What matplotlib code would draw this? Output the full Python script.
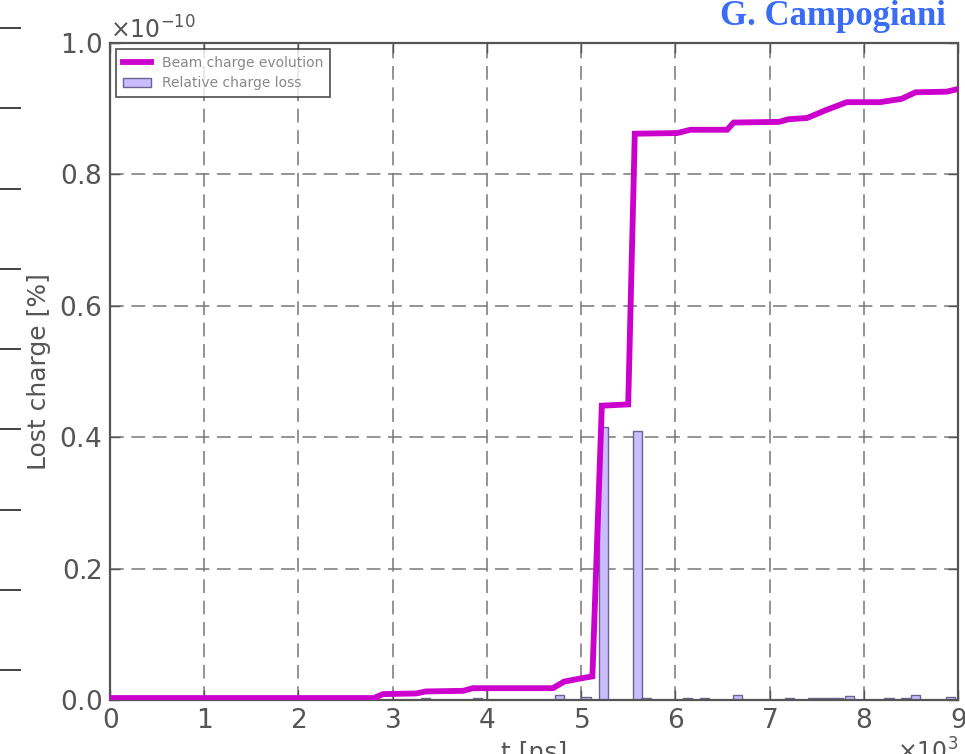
import numpy as np
import matplotlib
matplotlib.use("Agg")
import matplotlib.pyplot as plt
from matplotlib.ticker import ScalarFormatter

# beam charge evolution, t in units of 1e3 ns, lost charge in units of 1e-10 %
t_line = [0.0, 2.8, 2.9, 3.25, 3.35, 3.75, 3.85, 4.7, 4.82, 5.0, 5.12, 5.22,
          5.5, 5.57, 6.02, 6.16, 6.55, 6.62, 7.1, 7.2, 7.4, 7.6, 7.82, 8.17,
          8.4, 8.55, 8.88, 9.0]
q_line = [0.003, 0.003, 0.009, 0.01, 0.013, 0.014, 0.018, 0.018, 0.028, 0.033,
          0.036, 0.448, 0.45, 0.862, 0.863, 0.868, 0.868, 0.879, 0.88, 0.884,
          0.886, 0.898, 0.91, 0.91, 0.915, 0.925, 0.926, 0.93]

# relative charge loss per bin
t_bins = [3.35, 3.9, 4.77, 5.05, 5.24, 5.6, 5.69, 6.13, 6.31, 6.66, 7.21, 7.46,
          7.55, 7.64, 7.73, 7.85, 8.27, 8.45, 8.55, 8.92]
q_bins = [0.003, 0.003, 0.008, 0.004, 0.416, 0.409, 0.003, 0.003, 0.003, 0.008,
          0.003, 0.003, 0.003, 0.003, 0.003, 0.006, 0.003, 0.003, 0.007, 0.004]

T_SCALE = 1e3
Q_SCALE = 1e-10

fig = plt.figure(figsize=(9.65, 7.54), dpi=100)
ax = fig.add_axes([0.114, 0.0716, 0.8787, 0.8713])

t_l = np.array(t_line) * T_SCALE
q_l = np.array(q_line) * Q_SCALE
t_b = np.array(t_bins) * T_SCALE
q_b = np.array(q_bins) * Q_SCALE

ax.bar(t_b, q_b, width=0.1 * T_SCALE, color="#c9bcff", edgecolor="#6c6490",
       linewidth=1.0, label="Relative charge loss", zorder=2)
ax.plot(t_l, q_l, color="#cc00cc", lw=4.2, label="Beam charge evolution",
        solid_joinstyle="miter", zorder=3)

ax.set_xlim(0, 9000)
ax.set_ylim(0, 1e-10)
ax.set_xticks(np.arange(0, 9001, 1000))
ax.set_yticks(np.arange(0, 1.01e-10, 0.2e-10))

for axis in (ax.xaxis, ax.yaxis):
    fmt = ScalarFormatter(useMathText=True)
    fmt.set_powerlimits((0, 0))
    axis.set_major_formatter(fmt)

ax.grid(True, color="#777777", linestyle=(0, (9, 5)), linewidth=1.1)
ax.set_axisbelow(True)
ax.tick_params(direction="in", top=True, right=True, length=7, width=1,
               labelsize=19, labelcolor="#555555", color="#555555", pad=6)
ax.xaxis.get_offset_text().set_fontsize(17)
ax.yaxis.get_offset_text().set_fontsize(17)
ax.xaxis.get_offset_text().set_color("#555555")
ax.yaxis.get_offset_text().set_color("#555555")
for sp in ax.spines.values():
    sp.set_color("#555555")
    sp.set_linewidth(1.6)

ax.set_ylabel("Lost charge [%]", fontsize=18, color="#555555", labelpad=6)
ax.set_xlabel("t [ns]", fontsize=18, color="#555555", labelpad=4)

leg = ax.legend(loc="upper left", fontsize=10, fancybox=False,
                edgecolor="#333333", handlelength=2.0, borderpad=0.5,
                labelspacing=0.45, borderaxespad=0.45)
for txt in leg.get_texts():
    txt.set_color("#888888")
leg.get_frame().set_linewidth(1.3)

# neighbouring panel's tick marks on the far left
ax_side = fig.add_axes([-0.3, 1 - 670 / 754, 0.3, (670 - 28) / 754])
ax_side.set_ylim(0, 8)
ax_side.set_yticks(np.arange(0, 9))
ax_side.set_yticklabels([])
ax_side.set_xticks([])
for sp in ax_side.spines.values():
    sp.set_visible(False)
ax_side.yaxis.tick_right()
ax_side.tick_params(axis="y", direction="out", length=15, width=1.2,
                    color="#222222")

fig.text(0.98, 1 - 25 / 754, "G. Campogiani", ha="right", va="baseline",
         fontsize=25, fontweight="bold", family="Liberation Serif",
         color="#3a6cf4")

fig.savefig("out.png", dpi=100)
